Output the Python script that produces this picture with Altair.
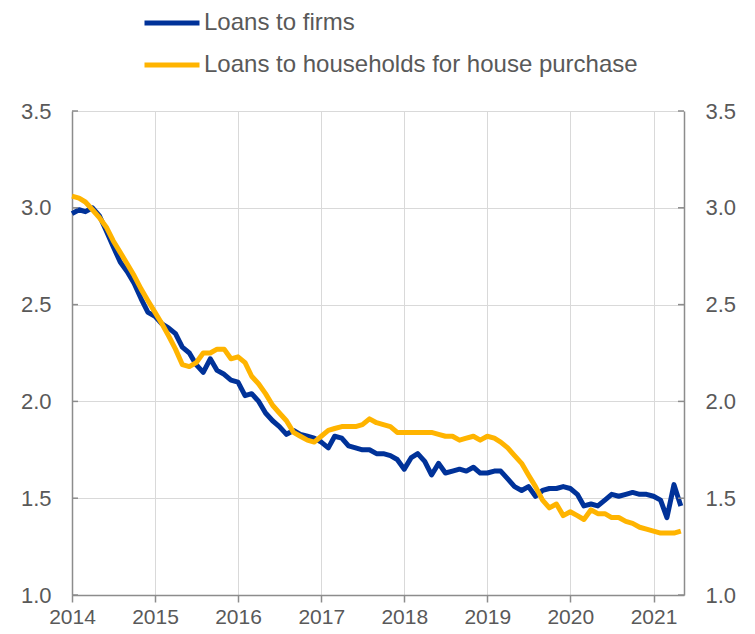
import altair as alt
import pandas as pd

# monthly data, Jan 2014 .. May 2021
start_month = "2014-01-01"
firms = [
    2.97, 2.99, 2.98, 3.00, 2.96, 2.88, 2.80, 2.72, 2.67, 2.61, 2.53, 2.46,
    2.44, 2.40, 2.38, 2.35, 2.28, 2.25, 2.19, 2.15, 2.22, 2.16, 2.14, 2.11,
    2.10, 2.03, 2.04, 2.00, 1.94, 1.90, 1.87, 1.83, 1.85, 1.83, 1.82, 1.81,
    1.79, 1.76, 1.82, 1.81, 1.77, 1.76, 1.75, 1.75, 1.73, 1.73, 1.72, 1.70,
    1.65, 1.71, 1.73, 1.69, 1.62, 1.68, 1.63, 1.64, 1.65, 1.64, 1.66, 1.63,
    1.63, 1.64, 1.64, 1.60, 1.56, 1.54, 1.56, 1.51, 1.54, 1.55, 1.55, 1.56,
    1.55, 1.52, 1.46, 1.47, 1.46, 1.49, 1.52, 1.51, 1.52, 1.53, 1.52, 1.52,
    1.51, 1.49, 1.40, 1.57, 1.46,
]
households = [
    3.06, 3.05, 3.03, 2.99, 2.95, 2.90, 2.83, 2.77, 2.71, 2.65, 2.58, 2.52,
    2.46, 2.40, 2.34, 2.27, 2.19, 2.18, 2.20, 2.25, 2.25, 2.27, 2.27, 2.22,
    2.23, 2.20, 2.13, 2.09, 2.04, 1.98, 1.94, 1.90, 1.84, 1.82, 1.80, 1.79,
    1.82, 1.85, 1.86, 1.87, 1.87, 1.87, 1.88, 1.91, 1.89, 1.88, 1.87, 1.84,
    1.84, 1.84, 1.84, 1.84, 1.84, 1.83, 1.82, 1.82, 1.80, 1.81, 1.82, 1.80,
    1.82, 1.81, 1.79, 1.76, 1.72, 1.68, 1.62, 1.56, 1.49, 1.45, 1.47, 1.41,
    1.43, 1.41, 1.39, 1.44, 1.42, 1.42, 1.40, 1.40, 1.38, 1.37, 1.35, 1.34,
    1.33, 1.32, 1.32, 1.32, 1.33,
]
series_names = ["Loans to firms", "Loans to households for house purchase"]
series_colors = ["#003299", "#FFB400"]
year_ticks = [2014, 2015, 2016, 2017, 2018, 2019, 2020, 2021]
y_ticks = [1.0, 1.5, 2.0, 2.5, 3.0, 3.5]

dates = pd.date_range(start_month, periods=len(firms), freq="MS")
df = pd.concat([
    pd.DataFrame({"date": dates, "series": series_names[0], "value": firms}),
    pd.DataFrame({"date": dates, "series": series_names[1], "value": households}),
])
ticks_df = pd.DataFrame({"value": y_ticks})

FONT = "Liberation Sans"
LABEL_COLOR = "#595959"
AXIS_COLOR = "#8c8c8c"
GRID_COLOR = "#d9d9d9"

x_scale = alt.Scale(domain=[alt.DateTime(year=2014, month=1, date=1),
                            alt.DateTime(year=2021, month=5, date=15)])
y_scale = alt.Scale(domain=[1.0, 3.5])

x_axis = alt.Axis(values=[alt.DateTime(year=y, month=1, date=1) for y in year_ticks],
                  format="%Y", grid=True, gridColor=GRID_COLOR, gridWidth=1,
                  domainColor=AXIS_COLOR, domainWidth=1.5, tickColor=AXIS_COLOR,
                  tickWidth=1.5, tickSize=7, labelPadding=4, labelFontSize=21,
                  labelFlush=False, labelAlign="center",
                  labelFont=FONT, labelColor=LABEL_COLOR)


def x_enc():
    return alt.X("date:T", scale=x_scale, title=None, axis=x_axis)


def y_axis(orient, grid):
    return alt.Axis(orient=orient, values=y_ticks, format=".1f", grid=grid,
                    gridColor=GRID_COLOR, domainColor=AXIS_COLOR, domainWidth=1.5,
                    tickSize=0, labelPadding=21, labelFontSize=22, labelFont=FONT,
                    labelColor=LABEL_COLOR)


lines = alt.Chart(df).mark_line(strokeWidth=5, strokeJoin="round").encode(
    x=x_enc(),
    y=alt.Y("value:Q", scale=y_scale, title=None, axis=y_axis("left", True)),
    color=alt.Color("series:N",
                    scale=alt.Scale(domain=series_names, range=series_colors),
                    legend=alt.Legend(orient="none", legendX=70, legendY=-118,
                                      direction="vertical", title=None,
                                      symbolType="stroke", symbolSize=3025,
                                      symbolStrokeWidth=5, labelFontSize=24,
                                      labelFont=FONT, labelColor=LABEL_COLOR,
                                      labelLimit=0, labelOffset=2, rowPadding=-18,
                                      padding=0)),
)

right_axis = alt.Chart(df).mark_line(opacity=0).encode(
    x=x_enc(),
    y=alt.Y("value:Q", scale=y_scale, title=None, axis=y_axis("right", False)),
    detail="series:N",
)

left_ticks = alt.Chart(ticks_df).mark_rule(color=AXIS_COLOR, strokeWidth=1.5).encode(
    x=alt.value(0), x2=alt.value(6),
    y=alt.Y("value:Q", scale=y_scale, axis=None),
)
right_ticks = alt.Chart(ticks_df).mark_rule(color=AXIS_COLOR, strokeWidth=1.5).encode(
    x=alt.value(606), x2=alt.value(612),
    y=alt.Y("value:Q", scale=y_scale, axis=None),
)

chart = alt.layer(lines, right_axis, left_ticks, right_ticks).resolve_scale(
    y="shared"
).resolve_axis(y="independent").properties(
    width=612, height=484,
    autosize=alt.AutoSizeParams(type="none"),
    padding={"left": 64, "top": 103, "right": 63, "bottom": 31},
    background="white",
).configure_view(stroke=None)

chart.save("out.html", embed_options={"renderer": "svg", "actions": False})
